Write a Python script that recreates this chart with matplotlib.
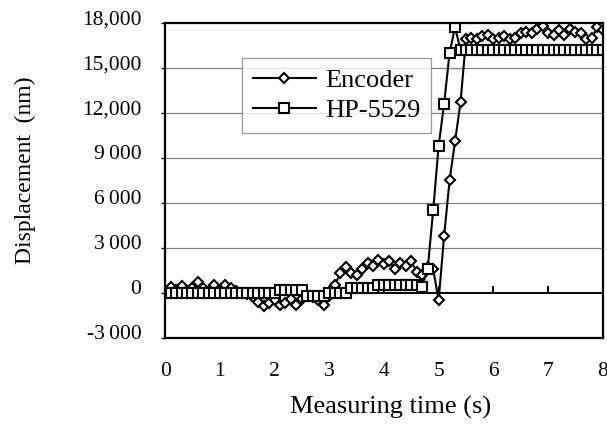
import matplotlib
matplotlib.use('Agg')
import matplotlib.pyplot as plt
import matplotlib.transforms as mtransforms
import numpy as np

plt.rcParams['font.family'] = ['Liberation Serif', 'DejaVu Serif']

# 采样时间 0.0 ~ 8.0 s, 间隔 0.1 s
time_s = np.round(np.arange(0, 81) * 0.1, 1)

encoder = [
    0, 400, 200, 450, 100, 300, 750, 300, 100, 500,
    200, 500, 300, 100, 0, -100, -300, -600, -900, -700,
    -500, -800, -700, -400, -800, -400, -200, -300, -500, -800,
    -200, 500, 1300, 1700, 1300, 1200, 1600, 2000, 1800, 2200,
    1900, 2100, 1600, 2000, 1800, 2100, 1400, 1200, 1700, 1600,
    -500, 3800, 7500, 10100, 12700, 16900, 17000, 16900, 17100, 17200,
    16900, 17000, 17100, 16900, 17000, 17300, 17400, 17300, 17600, 17800,
    17300, 17200, 17500, 17200, 17600, 17400, 17300, 16900, 17000, 17700,
    17500,
]

hp5529 = [
    0, 0, 0, 0, 0, 0, 0, 0, 0, 0,
    0, 0, 0, 0, 0, 0, 0, 0, 0, 0,
    0, 200, 200, 200, 200, 200, -200, -200, -200, -200,
    0, 0, 0, 0, 300, 300, 300, 300, 300, 500,
    500, 500, 500, 500, 500, 500, 500, 400, 1600, 5500,
    9800, 12600, 16000, 17700, 16200, 16200, 16200, 16200, 16200, 16200,
    16200, 16200, 16200, 16200, 16200, 16200, 16200, 16200, 16200, 16200,
    16200, 16200, 16200, 16200, 16200, 16200, 16200, 16200, 16200, 16200,
    16200,
]

y_ticks = [-3000, 0, 3000, 6000, 9000, 12000, 15000, 18000]
y_labels = ['-3\u2009000', '0', '3\u2009000', '6\u2009000', '9\u2009000',
            '12,000', '15,000', '18,000']
x_ticks = [0, 1, 2, 3, 4, 5, 6, 7, 8]

fig = plt.figure(figsize=(6.07, 4.24), dpi=100)
ax = fig.add_axes([0.272, 0.203, 0.721, 0.743])

# 网格线 (只画 3000~15000)
for v in y_ticks[2:-1]:
    ax.axhline(v, color='#808080', lw=0.9, zorder=1)

ax.plot(time_s, encoder, '-D', color='black', lw=1.5, ms=5,
        mfc='white', mec='black', mew=1.5, label='Encoder', zorder=3)
ax.plot(time_s, hp5529, '-s', color='black', lw=1.5, ms=6.5,
        mfc='white', mec='black', mew=1.5, label='HP-5529', zorder=3)

ax.set_xlim(0, 8)
ax.set_ylim(-3000, 18000)
ax.set_xticks(x_ticks)
ax.set_xticklabels([str(t) for t in x_ticks])
ax.set_yticks(y_ticks)
ax.set_yticklabels(y_labels)
ax.tick_params(axis='x', length=0, pad=17, labelsize=15.5)
ax.tick_params(axis='y', direction='out', length=3, width=1, pad=14, labelsize=15.5)
# 纵轴标签略微上移
shift = mtransforms.ScaledTranslation(0, 4 / 72, fig.dpi_scale_trans)
for lab in ax.get_yticklabels():
    lab.set_transform(lab.get_transform() + shift)
for s in ax.spines.values():
    s.set_linewidth(1.6)
    s.set_zorder(4)

# x 轴在 0 处, 刻度朝上
sec = ax.secondary_xaxis(3000 / 21000)
sec.set_xticks(x_ticks)
sec.tick_params(direction='in', length=5, width=1.4, labelbottom=False)
sec.set_xticklabels([])
sec.spines['bottom'].set_linewidth(1.4)

leg = ax.legend(loc='upper left', bbox_to_anchor=(0.176, 0.889), fontsize=19,
                frameon=True, fancybox=False, edgecolor='#808080',
                handlelength=2.4, handletextpad=0.35, borderpad=0.4,
                labelspacing=0.25, borderaxespad=0)
leg.get_frame().set_linewidth(0.9)

fig.text(25 / 607, 1 - 170 / 424, 'Displacement  (nm)', rotation=90,
         ha='center', va='center', fontsize=17)
fig.text(391 / 607, 1 - 407 / 424, 'Measuring time (s)',
         ha='center', va='center', fontsize=19)

plt.savefig('out.png', dpi=100)
plt.close()
